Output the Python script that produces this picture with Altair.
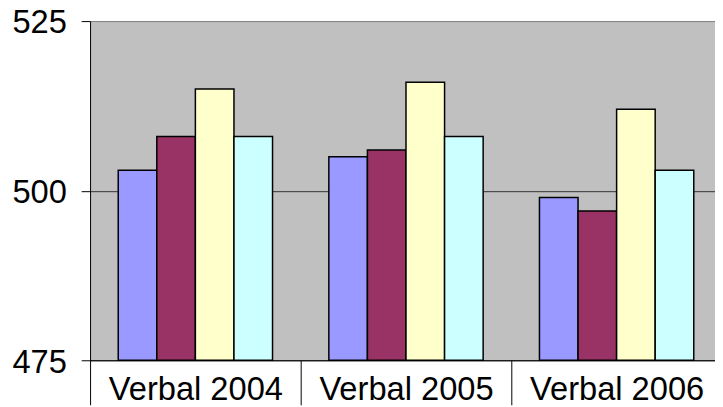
import altair as alt
import pandas as pd

categories = ["Verbal 2004", "Verbal 2005", "Verbal 2006"]
series = ["Series 1", "Series 2", "Series 3", "Series 4"]
series1 = [503, 505, 499]
series2 = [508, 506, 497]
series3 = [515, 516, 512]
series4 = [508, 508, 503]
colors = ["#9999FF", "#993366", "#FFFFCC", "#CCFFFF"]
y_ticks = [475, 500, 525]

rows = []
for name, vals in zip(series, [series1, series2, series3, series4]):
    for cat, v in zip(categories, vals):
        rows.append({"category": cat, "series": name, "value": v})
df = pd.DataFrame(rows)

FONT = "Liberation Sans"

chart = alt.Chart(df).mark_bar(stroke="black", strokeWidth=1.5).encode(
    x=alt.X(
        "category:N",
        sort=categories,
        scale=alt.Scale(paddingInner=0, paddingOuter=0, rangeMin=0, rangeMax=639),
        axis=alt.Axis(
            title=None, labelAngle=0, labelFont=FONT, labelFontSize=33,
            labelColor="black", tickBand="extent", tickSize=45,
            tickColor="black", tickWidth=1, domainColor="black", domainWidth=1,
            labelPadding=-31, labelBaseline="top", grid=False,
        ),
    ),
    xOffset=alt.XOffset(
        "series:N", sort=series,
        scale=alt.Scale(paddingInner=0, paddingOuter=0.73),
    ),
    y=alt.Y(
        "value:Q",
        scale=alt.Scale(domain=[475, 525], nice=False, zero=False),
        axis=alt.Axis(
            title=None, values=y_ticks, labelFont=FONT, labelFontSize=33,
            labelColor="black", tickSize=9, tickColor="black", tickWidth=1,
            domainColor="black", domainWidth=1, labelPadding=15, labelOffset=2,
            grid=True,
            gridColor=alt.condition("datum.value == 525", alt.value("#808080"), alt.value("#333333")),
            gridWidth=1,
        ),
    ),
    y2=alt.datum(475),
    color=alt.Color("series:N", scale=alt.Scale(domain=series, range=colors), legend=None),
).properties(
    width=632, height=343, autosize="none",
    padding={"left": 83, "top": 11, "right": 0, "bottom": 45},
).configure_view(fill="#C0C0C0", stroke=None)

chart.save("out.html", embed_options={"renderer": "svg", "actions": False})
